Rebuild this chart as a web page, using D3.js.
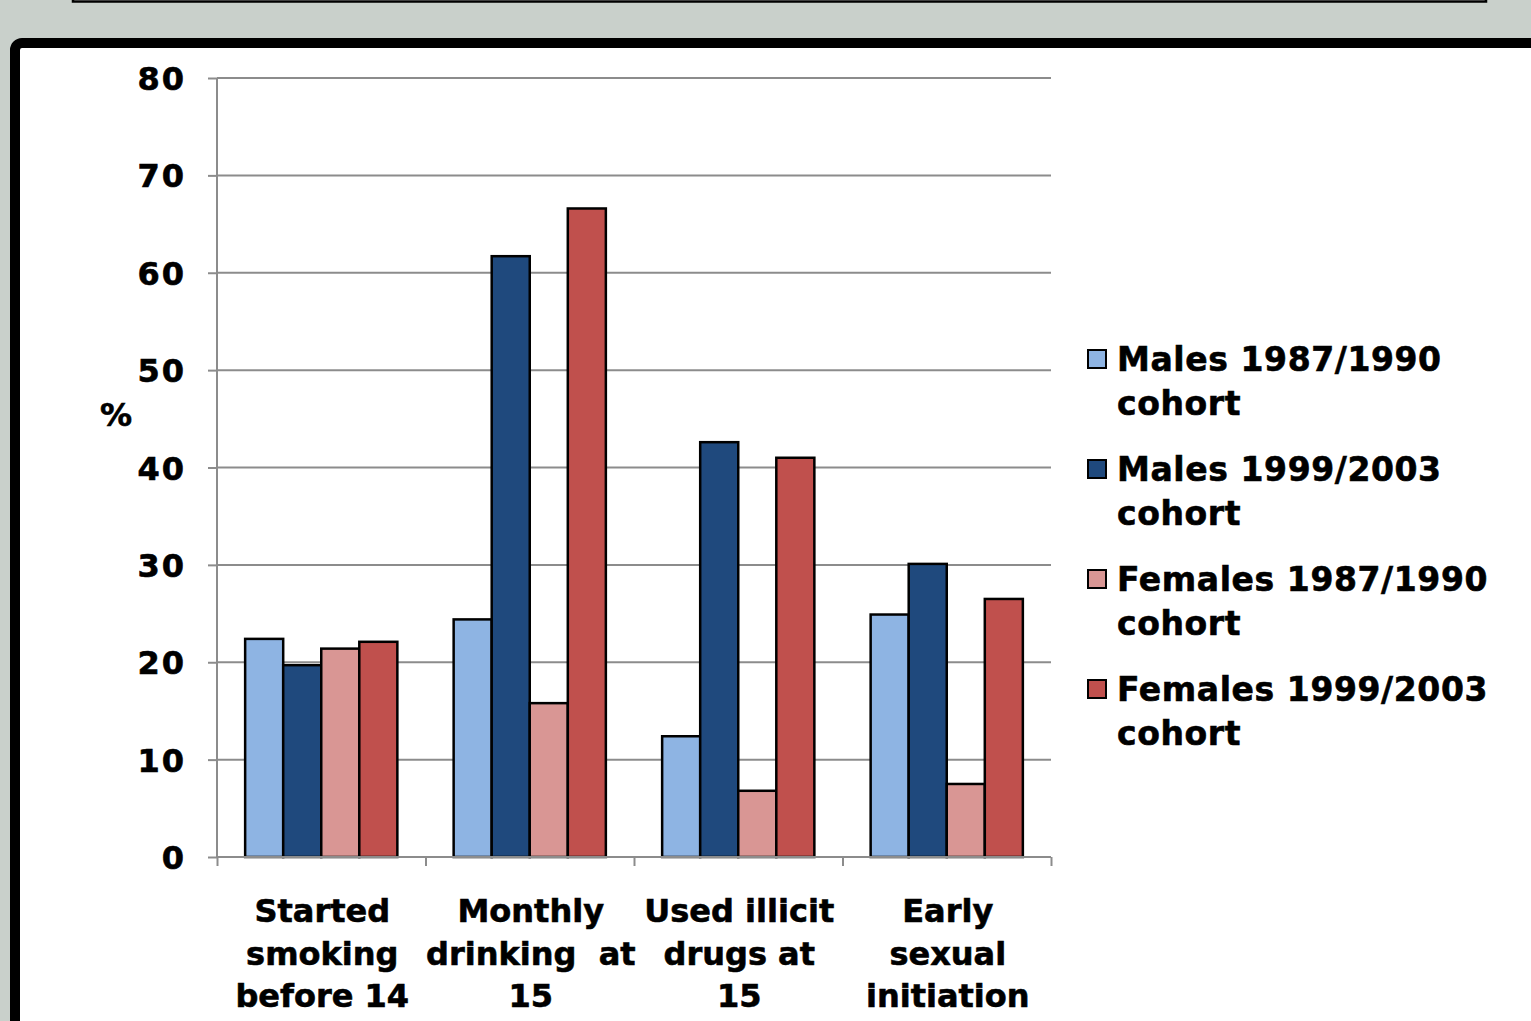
<!DOCTYPE html>
<html><head><meta charset="utf-8">
<script src="https://cdn.jsdelivr.net/npm/d3@7/dist/d3.min.js"></script>
<style>html,body{margin:0;padding:0;background:#C9D0CB;overflow:hidden}</style>
</head><body>
<svg id="c" width="1531" height="1021"></svg>
<script>
const categories = [["Started","smoking","before 14"],["Monthly","drinking  at","15"],["Used illicit","drugs at","15"],["Early","sexual","initiation"]];
const seriesNames = [["Males 1987/1990","cohort"],["Males 1999/2003","cohort"],["Females 1987/1990","cohort"],["Females 1999/2003","cohort"]];
const males8790 = [22.4, 24.4, 12.4, 24.9];
const males9903 = [19.7, 61.7, 42.6, 30.1];
const females8790 = [21.4, 15.8, 6.8, 7.5];
const females9903 = [22.1, 66.6, 41.0, 26.5];
const yTicks = [0,10,20,30,40,50,60,70,80];
const colors = ["#8EB4E3","#1F497D","#D99694","#C0504D"];
const series = [males8790, males9903, females8790, females9903];

const svg = d3.select("#c");
const font = "'DejaVu Sans', Verdana, sans-serif";
// top box
svg.append("rect").attr("x",73).attr("y",-20).attr("width",1413).attr("height",21.5).attr("fill","#fff").attr("stroke","#000").attr("stroke-width",2.5);
// main panel
svg.append("rect").attr("x",15).attr("y",43).attr("width",1600).attr("height",1100).attr("rx",7).attr("fill","#fff").attr("stroke","#000").attr("stroke-width",10);

const x0 = 217, x1 = 1051, yb = 857, yt = 78;
const x = d3.scaleBand().domain(d3.range(categories.length)).range([x0,x1]).paddingInner(0.27).paddingOuter(0.135);
const xs = d3.scaleBand().domain(d3.range(series.length)).range([0, x.bandwidth()]);
const y = d3.scaleLinear().domain([0,80]).range([yb,yt]);

// gridlines
svg.append("g").selectAll("line").data(yTicks.filter(d=>d>0)).join("line")
  .attr("x1",x0).attr("x2",x1).attr("y1",d=>y(d)).attr("y2",d=>y(d))
  .attr("stroke","#8C8C8C").attr("stroke-width",2);

// y axis
const yAx = svg.append("g").attr("transform",`translate(${x0},0)`)
  .call(d3.axisLeft(y).tickValues(yTicks).tickSize(9).tickPadding(22));
yAx.select(".domain").attr("stroke","#8C8C8C").attr("stroke-width",2).attr("d",`M0,${yt}V${yb}`);
yAx.selectAll(".tick line").attr("stroke","#8C8C8C").attr("stroke-width",2);
yAx.selectAll("text").attr("font-family",font).attr("font-weight","bold").attr("font-size",32).attr("fill","#000")
  .attr("stroke","#000").attr("stroke-width",0.6).attr("letter-spacing",2).attr("dy","0.36em");

// bars
const g = svg.append("g");
series.forEach((s,si)=>{
  g.selectAll(null).data(s).join("rect")
   .attr("x",(d,i)=>x(i)+xs(si)).attr("width",xs.bandwidth())
   .attr("y",d=>y(d)).attr("height",d=>yb-y(d))
   .attr("fill",colors[si]).attr("stroke","#000").attr("stroke-width",2.5);
});

// x axis
const xb = d3.scaleLinear().domain([0,categories.length]).range([x0,x1]);
const xAx = svg.append("g").attr("transform",`translate(0,${yb})`)
  .call(d3.axisBottom(xb).tickValues(d3.range(categories.length+1)).tickSize(9).tickFormat(""));
xAx.select(".domain").attr("stroke","#8C8C8C").attr("stroke-width",2).attr("d",`M${x0},0H${x1}`);
xAx.selectAll(".tick line").attr("stroke","#8C8C8C").attr("stroke-width",2);

const boldText = sel => sel.attr("font-family",font).attr("font-weight","bold").attr("fill","#000")
  .attr("stroke","#000").attr("stroke-width",0.6);

// category labels
categories.forEach((lines,i)=>{
  const cx = x(i)+x.bandwidth()/2+1;
  const t = svg.append("text").attr("x",cx).attr("y",922)
    .attr("text-anchor","middle").attr("font-size",32).style("white-space","pre").call(boldText);
  lines.forEach((l,j)=>t.append("tspan").attr("x",cx).attr("y",922+j*42.5).text(l));
});

// y title
svg.append("text").attr("x",116).attr("y",426).attr("text-anchor","middle")
  .attr("font-size",32).call(boldText).text("%");

// legend
seriesNames.forEach((lines,i)=>{
  const ly = 360 + i*110;
  svg.append("rect").attr("x",1088).attr("y",ly-10).attr("width",18).attr("height",18)
    .attr("fill",colors[i]).attr("stroke","#000").attr("stroke-width",2);
  const t = svg.append("text").attr("font-size",33).attr("letter-spacing",0.6).call(boldText);
  lines.forEach((l,j)=>t.append("tspan").attr("x",1117).attr("y",ly+11+j*44).text(l));
});
</script>
</body></html>
